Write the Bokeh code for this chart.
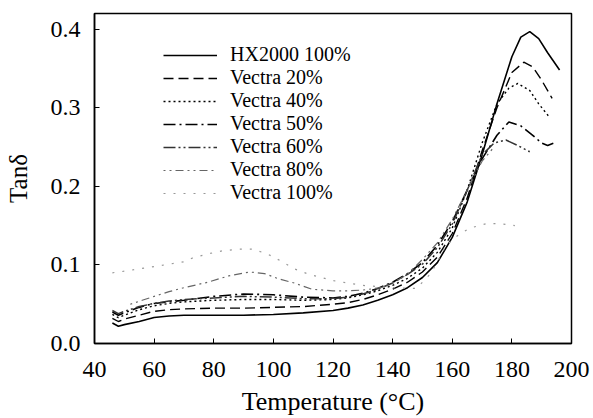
from bokeh.plotting import figure
from bokeh.models import Legend, LegendItem, FixedTicker, Range1d
from bokeh.embed import file_html
from bokeh.resources import INLINE

FONT = "Liberation Serif"

# Temperature (°C) and tan delta for each blend
hx_t = [46, 48, 50, 55, 60, 65, 70, 80, 90, 100, 110, 120, 125, 130, 135, 140, 145, 150, 155, 160, 165, 170, 175, 180, 183, 186, 189, 192, 196]
hx_y = [0.026, 0.022, 0.024, 0.028, 0.033, 0.035, 0.036, 0.036, 0.036, 0.037, 0.039, 0.042, 0.045, 0.049, 0.055, 0.062, 0.071, 0.084, 0.103, 0.135, 0.180, 0.240, 0.305, 0.365, 0.390, 0.397, 0.388, 0.370, 0.348]

v20_t = [46, 48, 50, 55, 60, 65, 70, 80, 90, 100, 110, 120, 125, 130, 135, 140, 145, 150, 155, 160, 165, 170, 175, 180, 184, 187, 190, 193.5]
v20_y = [0.032, 0.028, 0.031, 0.036, 0.041, 0.043, 0.044, 0.045, 0.045, 0.046, 0.047, 0.050, 0.052, 0.056, 0.062, 0.069, 0.078, 0.091, 0.110, 0.140, 0.185, 0.245, 0.300, 0.345, 0.358, 0.352, 0.335, 0.312]

v40_t = [46, 48, 50, 55, 60, 65, 70, 80, 90, 100, 110, 120, 125, 130, 135, 140, 145, 150, 155, 160, 165, 170, 175, 179, 182, 186, 189, 192.6]
v40_y = [0.037, 0.033, 0.036, 0.043, 0.048, 0.051, 0.053, 0.055, 0.056, 0.056, 0.055, 0.056, 0.058, 0.062, 0.067, 0.074, 0.083, 0.096, 0.116, 0.147, 0.195, 0.255, 0.305, 0.325, 0.331, 0.322, 0.305, 0.288]

v50_t = [46, 48, 50, 55, 60, 65, 70, 80, 90, 100, 110, 120, 125, 130, 135, 140, 145, 150, 155, 160, 165, 170, 175, 179, 183, 187, 190, 192, 194]
v50_y = [0.040, 0.036, 0.039, 0.046, 0.051, 0.053, 0.055, 0.060, 0.063, 0.062, 0.059, 0.058, 0.060, 0.064, 0.070, 0.078, 0.089, 0.103, 0.125, 0.155, 0.195, 0.235, 0.265, 0.282, 0.277, 0.265, 0.255, 0.252, 0.255]

v60_t = [46, 48, 50, 55, 60, 65, 70, 80, 90, 100, 110, 120, 125, 130, 135, 140, 145, 150, 155, 160, 165, 170, 174, 178, 182, 186]
v60_y = [0.042, 0.038, 0.041, 0.047, 0.051, 0.054, 0.056, 0.058, 0.060, 0.059, 0.057, 0.057, 0.059, 0.063, 0.069, 0.077, 0.088, 0.101, 0.122, 0.152, 0.195, 0.240, 0.255, 0.259, 0.252, 0.244]

v80_t = [52, 56, 60, 65, 70, 78, 85, 92, 97, 102, 107, 113, 120, 125, 130, 136, 140, 145, 150, 155, 160, 165, 170, 174]
v80_y = [0.050, 0.055, 0.060, 0.066, 0.071, 0.078, 0.086, 0.091, 0.089, 0.082, 0.077, 0.069, 0.067, 0.067, 0.068, 0.071, 0.077, 0.088, 0.107, 0.128, 0.158, 0.195, 0.232, 0.250]

v100_t = [46, 50, 55, 60, 65, 70, 73, 78, 83, 88, 93, 98, 103, 107, 112, 120, 130, 140, 148, 153, 158, 162, 166, 172, 177, 181]
v100_y = [0.090, 0.092, 0.095, 0.098, 0.101, 0.104, 0.109, 0.114, 0.118, 0.120, 0.120, 0.114, 0.104, 0.095, 0.088, 0.080, 0.074, 0.071, 0.070, 0.090, 0.125, 0.138, 0.147, 0.153, 0.152, 0.150]

labels = ["HX2000 100%", "Vectra 20%", "Vectra 40%", "Vectra 50%", "Vectra 60%", "Vectra 80%", "Vectra 100%"]
x_ticks = [40, 60, 80, 100, 120, 140, 160, 180, 200]
y_ticks = [0.0, 0.1, 0.2, 0.3, 0.4]

series = [(hx_t, hx_y), (v20_t, v20_y), (v40_t, v40_y), (v50_t, v50_y),
          (v60_t, v60_y), (v80_t, v80_y), (v100_t, v100_y)]
styles = [
    dict(line_color="black", line_width=1.6, line_dash="solid"),
    dict(line_color="black", line_width=1.4, line_dash="10 5"),
    dict(line_color="black", line_width=1.4, line_dash="2 3"),
    dict(line_color="black", line_width=1.6, line_dash="12 4 2 4"),
    dict(line_color="#333333", line_width=1.5, line_dash="12 3 2 3 2 3"),
    dict(line_color="#666666", line_width=1.2, line_dash="2 4 2 4 8 4"),
    dict(line_color="#999999", line_width=1.2, line_dash="2 8"),
]

p = figure(width=593, height=418, output_backend="svg", toolbar_location=None,
           x_range=Range1d(40, 200), y_range=Range1d(0, 0.42),
           min_border_left=94, min_border_right=22, min_border_top=13, min_border_bottom=74)

# one single-row legend per series so rows can sit close together
for i, ((t, y), st, lab) in enumerate(zip(series, styles, labels)):
    r = p.line(t, y, **st)
    lg = Legend(items=[LegendItem(label=lab, renderers=[r])],
                location=(69, 277 - 23 * i), border_line_color=None,
                background_fill_alpha=0, label_text_font=FONT, label_text_font_size="20px",
                label_text_color="black",
                glyph_width=54, glyph_height=16, label_height=16, label_standoff=13,
                spacing=0, padding=0, margin=0)
    p.add_layout(lg)

p.xgrid.visible = False
p.ygrid.visible = False
p.outline_line_color = "black"
p.outline_line_width = 1.5

p.xaxis.axis_line_width = 1.5
p.yaxis.axis_line_width = 1.5
p.xaxis.major_tick_in = 5
p.yaxis.major_tick_in = 5
p.xaxis.major_tick_out = 0
p.yaxis.major_tick_out = 0
p.xaxis.minor_tick_line_color = None
p.yaxis.minor_tick_line_color = None
p.xaxis.major_label_text_font = FONT
p.yaxis.major_label_text_font = FONT
p.xaxis.major_label_text_font_size = "24px"
p.yaxis.major_label_text_font_size = "24px"
p.xaxis.major_label_text_color = "black"
p.yaxis.major_label_text_color = "black"
p.xaxis.axis_label_text_font = FONT
p.yaxis.axis_label_text_font = FONT
p.xaxis.axis_label_text_font_size = "26px"
p.yaxis.axis_label_text_font_size = "25px"
p.xaxis.axis_label_text_font_style = "normal"
p.yaxis.axis_label_text_font_style = "normal"
p.xaxis.axis_label_text_color = "black"
p.yaxis.axis_label_text_color = "black"

p.xaxis.ticker = FixedTicker(ticks=x_ticks)
p.yaxis.ticker = FixedTicker(ticks=y_ticks)
p.yaxis.major_label_overrides = {v: f"{v:.1f}" for v in y_ticks}
p.xaxis.axis_label = "Temperature (°C)"
p.yaxis.axis_label = "Tanδ"
p.xaxis.major_label_standoff = 18
p.yaxis.major_label_standoff = 14
p.xaxis.axis_label_standoff = 7
p.yaxis.axis_label_standoff = 16

open("out.html", "w").write(file_html(p, INLINE))
